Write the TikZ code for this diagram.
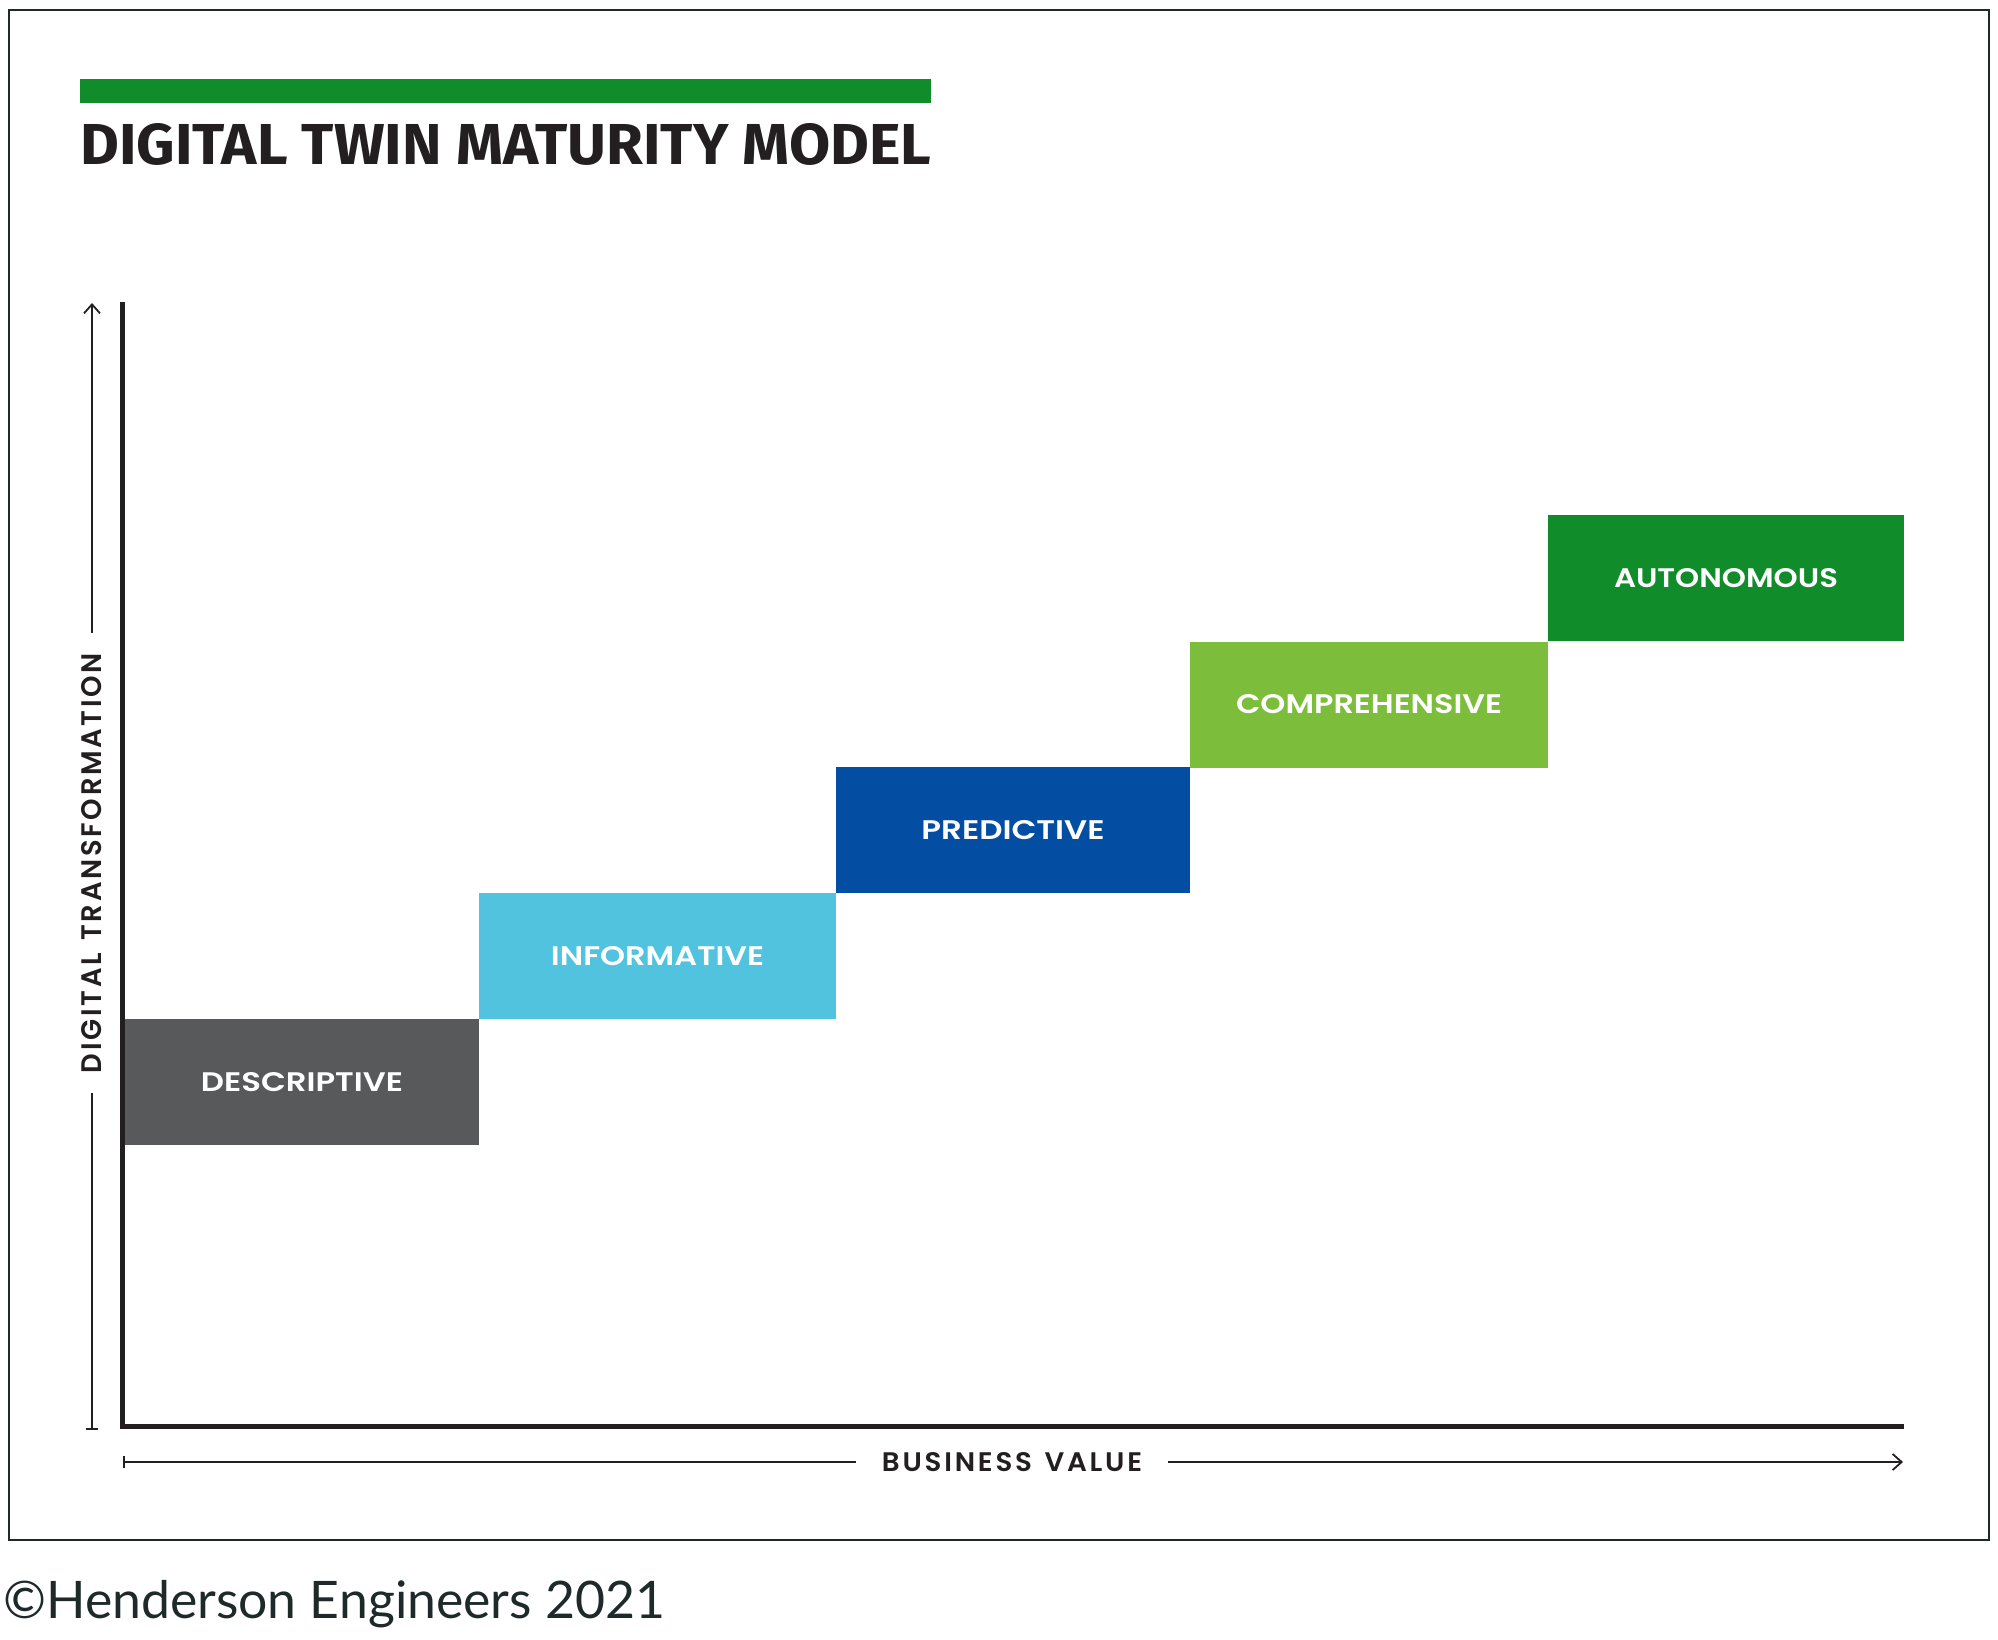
\documentclass[tikz,border=0pt]{standalone}
\usepackage{fontspec}
\setmainfont{Lato}
\newfontfamily\titlefont{Fira Sans}
\newfontfamily\boxfont{Poppins SemiBold}
\newfontfamily\axfont{Poppins SemiBold}[LetterSpace=10]
\newfontfamily\copyfont{Lato}
\usetikzlibrary{arrows.meta}
\definecolor{ink}{HTML}{231F20}
\definecolor{framecol}{HTML}{1E2A2A}
\definecolor{cgray}{HTML}{58595B}
\definecolor{ccyan}{HTML}{52C3DF}
\definecolor{cblue}{HTML}{034EA2}
\definecolor{clgreen}{HTML}{7DBD3C}
\definecolor{cgreen}{HTML}{118C2B}
\begin{document}
\begin{tikzpicture}[x=1pt,y=1pt,
  lvl/.style 2 args={rectangle, draw=none, inner sep=0pt, outer sep=0pt,
    minimum width=#1pt, minimum height=#2pt, text=white},
  axlabel/.style={inner sep=0pt, outer sep=20pt, text=ink},
  thinarrow/.style={line width=1.8pt, draw=ink},
  barb/.tip={Straight Barb[length=9pt,width=16pt]},
  bartip/.tip={Bar[width=12pt]}
]
\useasboundingbox (0,0) rectangle (1998,-1640);
% frame
\draw[line width=2.2pt, framecol] (9,-10) rectangle (1989,-1540);
% title bar and title
\fill[cgreen] (80,-79) rectangle (931,-103);
\node[anchor=base west, inner sep=0pt, text=ink] (title) at (80,-165)
  {\resizebox{851pt}{41pt}{\titlefont\bfseries DIGITAL TWIN MATURITY MODEL}};
% level boxes
\node[lvl={354}{126}, fill=cgray]   (desc) at (302,-1082)
  {\resizebox{202pt}{19pt}{\boxfont DESCRIPTIVE}};
\node[lvl={357}{126}, fill=ccyan]   (info) at (657.5,-956)
  {\resizebox{213pt}{19pt}{\boxfont INFORMATIVE}};
\node[lvl={354}{126}, fill=cblue]   (pred) at (1013,-830)
  {\resizebox{183pt}{19pt}{\boxfont PREDICTIVE}};
\node[lvl={358}{126}, fill=clgreen] (comp) at (1369,-704.5)
  {\resizebox{266pt}{19pt}{\boxfont COMPREHENSIVE}};
\node[lvl={356}{126}, fill=cgreen]  (auto) at (1726,-578)
  {\resizebox{224pt}{19pt}{\boxfont AUTONOMOUS}};
% main axes
\coordinate (ytop) at (122.5,-302);
\coordinate (orig) at (122.5,-1426.5);
\coordinate (xend) at (1904,-1426.5);
\draw[line width=5pt, ink, line join=miter] (ytop) -- (orig) -- (xend);
% y axis label arrow
\coordinate (yabot) at (92,-1430);
\coordinate (yatop) at (92,-303);
\node[axlabel, rotate=90] (ylab) at (92,-863)
  {\resizebox{420pt}{20pt}{\axfont DIGITAL\hspace{0.45em}TRANSFORMATION}};
\draw[thinarrow, {bartip}-] (yabot) -- (ylab.west);
\draw[thinarrow, -{barb}] (ylab.east) -- (yatop);
% x axis label arrow
\coordinate (xastart) at (123,-1462);
\coordinate (xaend) at (1903,-1462);
\node[axlabel, outer sep=26pt] (xlab) at (1012,-1462)
  {\resizebox{260pt}{19pt}{\axfont BUSINESS\hspace{0.45em}VALUE}};
\draw[thinarrow, {bartip}-] (xastart) -- (xlab.west);
\draw[thinarrow, -{barb}] (xlab.east) -- (xaend);
% copyright
\node[anchor=base west, inner sep=0pt, text=framecol] (copy) at (3,-1618)
  {\resizebox{662pt}{!}{\copyfont ©Henderson Engineers 2021}};
\end{tikzpicture}
\end{document}
